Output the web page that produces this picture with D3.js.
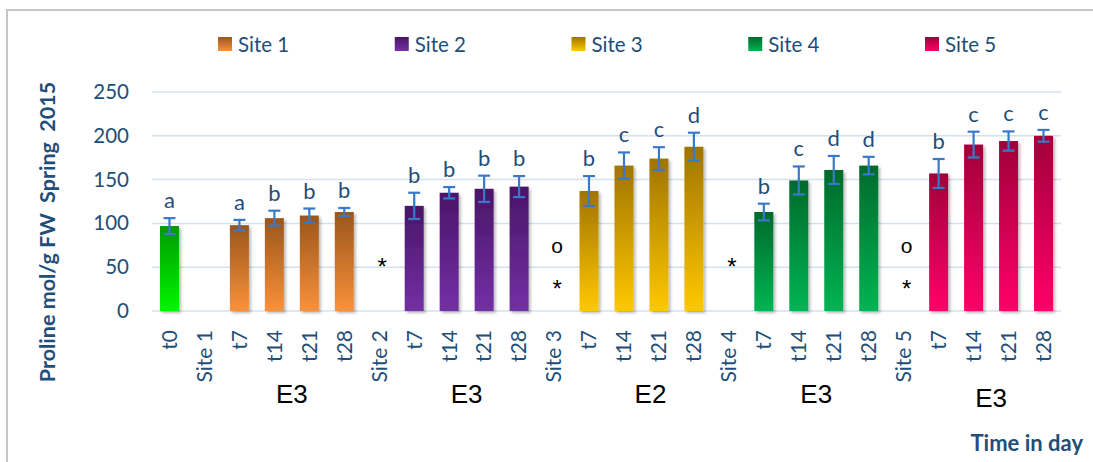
<!DOCTYPE html>
<html>
<head>
<meta charset="utf-8">
<script src="https://cdn.jsdelivr.net/npm/d3@7/dist/d3.min.js"></script>
<style>
  html, body { margin: 0; padding: 0; background: #fff; }
  svg { display: block; }
</style>
</head>
<body>
<div id="chart"></div>
<script>
// ---------------- DATA ----------------
const categories = ["t0","Site 1","t7","t14","t21","t28","Site 2","t7","t14","t21","t28",
  "Site 3","t7","t14","t21","t28","Site 4","t7","t14","t21","t28","Site 5","t7","t14","t21","t28"];
// which colour group each category belongs to (0 = control t0, 1..5 = sites)
const groupOf = [0,1,1,1,1,1,2,2,2,2,2,3,3,3,3,3,4,4,4,4,4,5,5,5,5,5];
const values = [97, null, 98, 106, 109, 113, null, 120, 135, 139.5, 142, null, 137, 166, 174, 187.5,
  null, 113, 149, 161, 166, null, 157, 190, 194, 200];
const errors = [9, null, 6, 8.5, 8, 4.6, null, 15, 6.5, 15, 12, null, 17, 15, 13, 16,
  null, 9.5, 16, 16, 10, null, 16.5, 14.7, 11, 6.7];
const letters = ["a","","a","b","b","b","","b","b","b","b","","b","c","c","d","","b","c","d","d","","b","c","c","c"];
const seriesNames = ["Site 1","Site 2","Site 3","Site 4","Site 5"];
const yTicks = [0, 50, 100, 150, 200, 250];
// symbols drawn in the empty "Site" columns (value = vertical position in data units)
const symbolCats = [6, 11, 11, 16, 21, 21];
const symbolText = ["*", "o", "*", "*", "o", "*"];
const symbolValue = [55, 73, 30, 55, 73, 30];
// E-class labels under each site's time points
const eLabels = ["E3","E3","E2","E3","E3"];
const yTitle = "Proline mol/g FW\u00a0 Spring\u00a0 2015";
const xTitle = "Time in day";

// ---------------- STYLE ----------------
const W = 1093, H = 462;
const plot = {left: 152, right: 1061, top: 92, bottom: 311};
const gradStops = [
  ["#009a00", "#00f600"],   // t0
  ["#9a561c", "#f9913a"],   // site 1
  ["#4a1568", "#7330a4"],   // site 2
  ["#a07400", "#ffc800"],   // site 3
  ["#006a2c", "#00b452"],   // site 4
  ["#a0003a", "#ff0068"]    // site 5
];
const txtBlue = "#1f4e79";
const errColor = "#3a78c9";

const svg = d3.select("#chart").append("svg").attr("width", W).attr("height", H)
  .style("background", "#fff");

const defs = svg.append("defs");
gradStops.forEach((g, i) => {
  const lg = defs.append("linearGradient").attr("id", "g" + i)
    .attr("x1", 0).attr("y1", 0).attr("x2", 0).attr("y2", 1);
  lg.append("stop").attr("offset", "0%").attr("stop-color", g[0]);
  lg.append("stop").attr("offset", "100%").attr("stop-color", g[1]);
});
const f = defs.append("filter").attr("id", "shadow").attr("x", "-30%").attr("y", "-10%")
  .attr("width", "160%").attr("height", "130%");
f.append("feDropShadow").attr("dx", 2).attr("dy", 2).attr("stdDeviation", 1.6)
  .attr("flood-color", "#000").attr("flood-opacity", 0.28);

// outer frame
svg.append("path").attr("d", `M7,${H} V10 H${W}`).attr("fill", "none")
  .attr("stroke", "#c6c6c6").attr("stroke-width", 2);

// scales
const x = d3.scaleBand().domain(d3.range(categories.length))
  .range([plot.left, plot.right]).paddingInner(0.457).paddingOuter(0.2285);
const y = d3.scaleLinear().domain([0, 250]).range([plot.bottom, plot.top]);
const cx = i => x(i) + x.bandwidth() / 2;

// gridlines
svg.append("g").selectAll("line").data(yTicks).join("line")
  .attr("x1", plot.left).attr("x2", plot.right)
  .attr("y1", d => y(d)).attr("y2", d => y(d))
  .attr("stroke", "#d5e0f0").attr("stroke-width", 1.5);

// y axis labels
const yAxis = d3.axisLeft(y).tickValues(yTicks).tickSize(0).tickPadding(23);
const ya = svg.append("g").attr("transform", `translate(${plot.left},0)`).call(yAxis);
ya.select(".domain").remove();
ya.selectAll("text").attr("fill", txtBlue).style("font-family", "Lato, sans-serif")
  .style("font-size", "20.5px");

// bars
const idx = d3.range(categories.length).filter(i => values[i] != null);
svg.append("g").selectAll("rect").data(idx).join("rect")
  .attr("x", i => x(i)).attr("width", x.bandwidth())
  .attr("y", i => y(values[i])).attr("height", i => y(0) - y(values[i]))
  .attr("fill", i => `url(#g${groupOf[i]})`).attr("filter", "url(#shadow)");

// error bars
const eg = svg.append("g").attr("stroke", errColor).attr("stroke-width", 2.2).attr("fill", "none");
idx.forEach(i => {
  const hi = y(values[i] + errors[i]), lo = y(values[i] - errors[i]), c = cx(i);
  eg.append("line").attr("x1", c).attr("x2", c).attr("y1", hi).attr("y2", lo);
  eg.append("line").attr("x1", c - 6).attr("x2", c + 6).attr("y1", hi).attr("y2", hi);
  eg.append("line").attr("x1", c - 6).attr("x2", c + 6).attr("y1", lo).attr("y2", lo);
});

// significance letters
svg.append("g").selectAll("text").data(idx).join("text")
  .attr("x", i => cx(i)).attr("y", i => y(values[i] + errors[i]) - 10)
  .attr("text-anchor", "middle").attr("fill", txtBlue)
  .style("font-family", "Lato, sans-serif").style("font-size", "22px")
  .text(i => letters[i]);

// symbols in empty site columns
svg.append("g").selectAll("text").data(symbolCats).join("text")
  .attr("x", (c, k) => cx(c) + 3).attr("y", (c, k) => y(symbolValue[k]))
  .attr("dy", (c, k) => symbolText[k] === "*" ? "0.5em" : "0.3em")
  .attr("text-anchor", "middle").attr("fill", "#000")
  .style("font-family", "'Liberation Sans', Arial, sans-serif")
  .style("font-size", (c, k) => symbolText[k] === "*" ? "24px" : "21px")
  .text((c, k) => symbolText[k]);

// category labels (rotated)
svg.append("g").selectAll("text").data(d3.range(categories.length)).join("text")
  .attr("transform", i => `translate(${cx(i)},${plot.bottom + 19}) rotate(-90)`)
  .attr("text-anchor", "end").attr("dy", "0.35em").attr("fill", txtBlue)
  .style("font-family", "Lato, sans-serif").style("font-size", "21px")
  .text(i => categories[i]);

// E labels centred under each site's t7..t28
const eOffset = [0, 0, 9, 0, 0];
const eBase = [403, 403, 403, 403, 407];
svg.append("g").selectAll("text").data(eLabels).join("text")
  .attr("x", (d, k) => (cx(2 + 5 * k) + cx(5 + 5 * k)) / 2 + eOffset[k])
  .attr("y", (d, k) => eBase[k])
  .attr("text-anchor", "middle").attr("fill", "#000")
  .style("font-family", "'Liberation Sans', Arial, sans-serif").style("font-size", "26px")
  .text(d => d);

// y title
svg.append("text").attr("transform", "translate(47,232) rotate(-90)")
  .attr("text-anchor", "middle").attr("dy", "0.35em").attr("fill", txtBlue)
  .style("font-family", "Lato, sans-serif").style("font-size", "21.5px").style("font-weight", "bold")
  .text(yTitle);

// x title
svg.append("text").attr("x", 1083).attr("y", 451).attr("text-anchor", "end").attr("fill", txtBlue)
  .style("font-family", "Lato, sans-serif").style("font-size", "22px").style("font-weight", "bold")
  .text(xTitle);

// legend
const legendX = d3.scalePoint().domain(seriesNames).range([218, 925]);
const lg = svg.append("g").selectAll("g").data(seriesNames).join("g")
  .attr("transform", d => `translate(${legendX(d)},37)`);
lg.append("rect").attr("width", 14).attr("height", 14)
  .attr("fill", (d, k) => `url(#g${k + 1})`);
lg.append("text").attr("x", 20).attr("y", 14.5).attr("fill", txtBlue)
  .style("font-family", "Lato, sans-serif").style("font-size", "20.5px")
  .text(d => d);
</script>
</body>
</html>
